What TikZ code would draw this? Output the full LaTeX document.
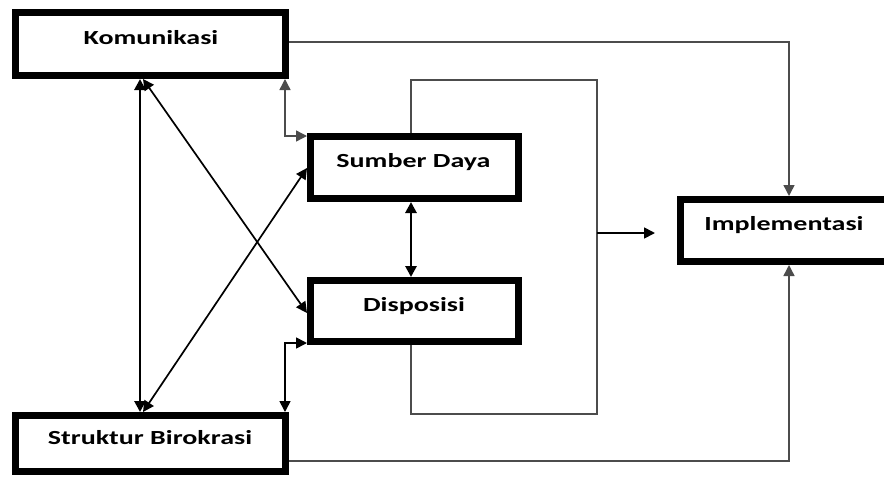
\documentclass[tikz,border=0pt]{standalone}
\usepackage{fontspec}
\newfontfamily\boxfont{Carlito}[FakeStretch=1.4]
\usetikzlibrary{arrows.meta}
\begin{document}
\begin{tikzpicture}[x=1pt,y=-1pt,
  box/.style={draw=black, line width=7pt, fill=white, inner sep=0pt},
  lbl/.style={anchor=base, inner sep=0pt, font=\boxfont\fontsize{20}{24}\selectfont\bfseries},
  tip/.style={arrows={-Triangle[length=11pt,width=11pt]}},
  bitip/.style={arrows={Triangle[length=11pt,width=11pt]-Triangle[length=11pt,width=11pt]}},
  heavy/.style={draw=black, line width=2.8pt},
  medium/.style={draw=black, line width=1.7pt},
  light/.style={draw=black!70, line width=1.4pt}]
\useasboundingbox[clip] (0,0) rectangle (884,477);
\fill[white] (0,0) rectangle (884,477);

% boxes
\node[box, minimum width=270pt, minimum height=63pt] (kom) at (150.5,44) {};
\node[box, minimum width=208pt, minimum height=62pt] (sd)  at (414.5,167.5) {};
\node[box, minimum width=208pt, minimum height=61pt] (dis) at (414.5,311) {};
\node[box, minimum width=207pt, minimum height=62pt] (imp) at (784,230.5) {};
\node[box, minimum width=270pt, minimum height=56pt] (str) at (150.5,443.5) {};

% labels
\node[lbl] (komt) at (151,44)    {Komunikasi};
\node[lbl] (sdt)  at (413.5,167) {Sumber Daya};
\node[lbl] (dist) at (414,311)   {Disposisi};
\node[lbl] (impt) at (784,230)   {Implementasi};
\node[lbl] (strt) at (150,444)   {Struktur Birokrasi};

% guide columns and rows
\coordinate (vA) at (140,0);
\coordinate (vB) at (285,0);
\coordinate (vC) at (411,0);
\coordinate (vE) at (597,0);
\coordinate (vD) at (789,0);
\coordinate (hA) at (0,136);
\coordinate (hB) at (0,343);
\coordinate (hC) at (0,80);
\coordinate (hD) at (0,414);
\coordinate (hE) at (0,233);
\coordinate (hF) at (0,42);
\coordinate (hG) at (0,461);
\coordinate (hH) at (0,313);
\coordinate (hI) at (0,168);
\coordinate (toImp) at (655,233);

% left spine and crossing diagonals
\draw[heavy, bitip] (kom.south -| vA) -- (str.north -| vA);
\draw[medium, bitip] ([xshift=3pt]kom.south -| vA) -- (dis.west |- hH);
\draw[medium, bitip] ([xshift=3pt]str.north -| vA) -- (sd.west |- hI);

% elbows to the middle boxes
\draw[light, bitip] (kom.south -| vB) |- (sd.west |- hA);
\draw[medium, bitip] (dis.west |- hB) -| (str.north -| vB);

% Sumber Daya <-> Disposisi
\draw[heavy, bitip] (sd.south -| vC) -- (dis.north -| vC);

% bracket joining the two middle boxes
\draw[light] (sd.north -| vC) -- (vC |- hC) -- (vE |- hC) -- (vE |- hD)
  -- (vC |- hD) -- (dis.south -| vC);
\draw[medium, tip] (vE |- hE) -- (toImp);

% outer paths into Implementasi
\draw[light, tip] (kom.east |- hF) -| (imp.north -| vD);
\draw[light, tip] (str.east |- hG) -| (imp.south -| vD);
\end{tikzpicture}
\end{document}
